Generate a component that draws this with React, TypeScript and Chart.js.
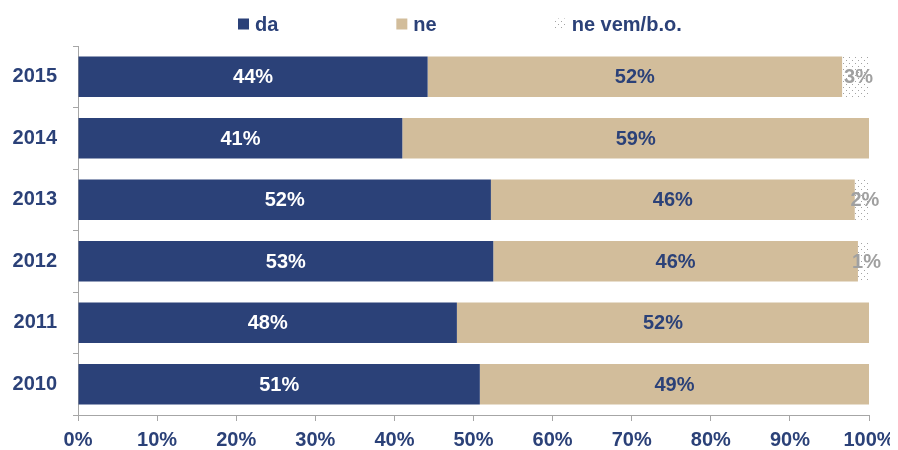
import React, { useEffect, useRef } from "react";
import { Chart, registerables } from "chart.js";

Chart.register(...registerables);

const categories = ["2015", "2014", "2013", "2012", "2011", "2010"];
const seriesNames = ["da", "ne", "ne vem/b.o."];
const daValues = [44.2, 41.0, 52.2, 52.5, 47.9, 50.8];
const neValues = [52.4, 59.0, 46.0, 46.1, 52.1, 49.2];
const neVemValues = [3.4, 0, 1.8, 1.4, 0, 0];
const xTickValues = [0, 10, 20, 30, 40, 50, 60, 70, 80, 90, 100];

const NAVY = "#2b4178";
const TAN = "#d2bd9b";
const GRAY_AXIS = "#a6a6a6";
const GRAY_LABEL = "#a0a0a0";
const FONT = "'Liberation Sans', Arial, sans-serif";

function makePattern(): CanvasPattern | string {
  const c = document.createElement("canvas");
  c.width = 6;
  c.height = 6;
  const g = c.getContext("2d");
  if (!g) return "#ffffff";
  g.fillStyle = "#ffffff";
  g.fillRect(0, 0, 6, 6);
  g.fillStyle = "#a3a3a3";
  g.fillRect(1, 1, 1, 1);
  g.fillRect(4, 4, 1, 1);
  const p = g.createPattern(c, "repeat");
  return p || "#ffffff";
}

export default function App() {
  const ref = useRef<HTMLCanvasElement | null>(null);

  useEffect(() => {
    if (!ref.current) return;
    const pattern = makePattern();
    const labelColors = ["#ffffff", NAVY, GRAY_LABEL];
    const fills: any[] = [NAVY, TAN, pattern];

    const labelPlugin = {
      id: "valueLabels",
      afterDatasetsDraw(chart: any) {
        const ctx = chart.ctx;
        ctx.save();
        ctx.font = `bold 20px ${FONT}`;
        ctx.textAlign = "center";
        ctx.textBaseline = "middle";
        chart.data.datasets.forEach((ds: any, i: number) => {
          const meta = chart.getDatasetMeta(i);
          meta.data.forEach((el: any, j: number) => {
            const v = ds.data[j];
            if (!v) return;
            const cx = (el.x + el.base) / 2 + (i === 2 ? 3 : 0);
            ctx.fillStyle = labelColors[i];
            ctx.fillText(Math.round(v) + "%", cx, el.y + 1);
          });
        });
        ctx.restore();
      },
    };

    const legendPlugin = {
      id: "customLegend",
      afterDraw(chart: any) {
        const ctx = chart.ctx;
        ctx.save();
        ctx.font = `bold 20px ${FONT}`;
        ctx.textBaseline = "middle";
        ctx.textAlign = "left";
        let x = 230;
        const cy = 16;
        seriesNames.forEach((name, i) => {
          ctx.fillStyle = fills[i];
          ctx.fillRect(x, cy - 5.5, 11, 11);
          ctx.fillStyle = NAVY;
          ctx.fillText(name, x + 17, cy + 1);
          const w = ctx.measureText(name).width;
          x += 17 + w + 118;
        });
        ctx.restore();
      },
    };

    const chart = new Chart(ref.current, {
      type: "bar",
      data: {
        labels: categories,
        datasets: [
          { label: seriesNames[0], data: daValues, backgroundColor: NAVY },
          { label: seriesNames[1], data: neValues, backgroundColor: TAN },
          { label: seriesNames[2], data: neVemValues, backgroundColor: pattern as any },
        ],
      },
      options: {
        indexAxis: "y",
        responsive: true,
        maintainAspectRatio: false,
        animation: false,
        datasets: {
          bar: { categoryPercentage: 1, barPercentage: 0.655 },
        },
        layout: { padding: { top: 38, right: 29, left: 0, bottom: 0 } },
        plugins: {
          legend: { display: false },
          tooltip: { enabled: false },
        },
        scales: {
          x: {
            stacked: true,
            min: 0,
            max: 100,
            afterBuildTicks: (s: any) => {
              s.ticks = xTickValues.map((v) => ({ value: v }));
            },
            ticks: {
              callback: (v: any) => v + "%",
              color: NAVY,
              font: { family: FONT, size: 20, weight: "bold" },
              padding: 7,
              maxRotation: 0,
              autoSkip: false,
            },
            grid: { drawOnChartArea: false, drawTicks: true, tickLength: 6, color: GRAY_AXIS },
            border: { color: GRAY_AXIS },
            afterFit: (s: any) => {
              s.height = 35;
              s.paddingRight = 0;
              s.paddingLeft = 0;
            },
          },
          y: {
            stacked: true,
            ticks: {
              color: NAVY,
              font: { family: FONT, size: 20, weight: "bold" },
              padding: 16,
            },
            grid: { drawOnChartArea: false, drawTicks: true, tickLength: 5, color: GRAY_AXIS, offset: true },
            border: { color: GRAY_AXIS },
            afterFit: (s: any) => {
              s.width = 70;
              s.paddingTop = 0;
              s.paddingBottom = 0;
            },
          },
        },
      } as any,
      plugins: [labelPlugin, legendPlugin],
    });
    return () => chart.destroy();
  }, []);

  return (
    <div style={{ width: 890, height: 442, position: "relative" }}>
      <canvas ref={ref} />
    </div>
  );
}
